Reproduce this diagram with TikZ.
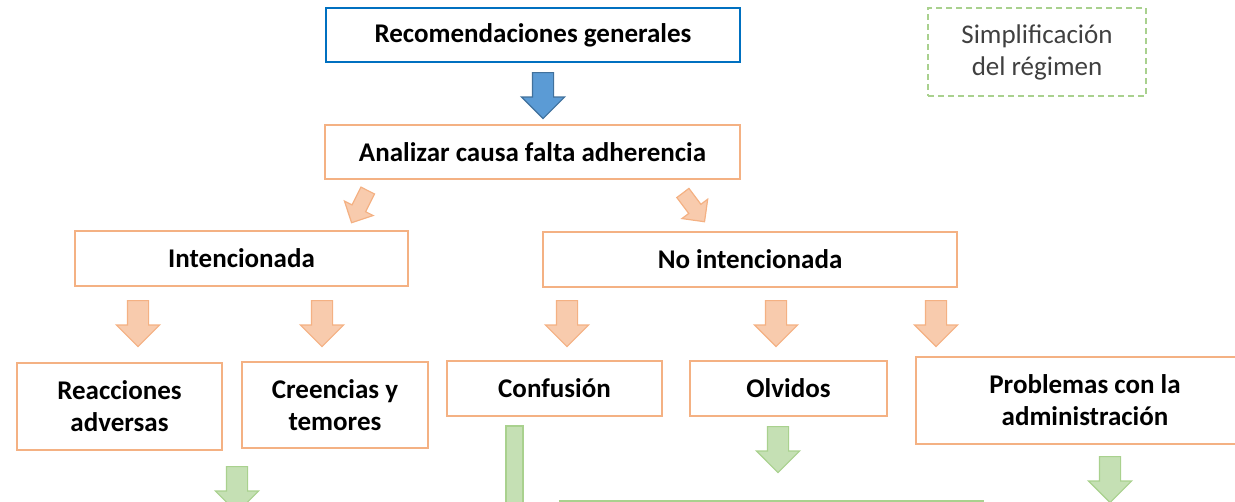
\documentclass[tikz,border=0pt]{standalone}
\usepackage{fontspec}
\setmainfont{Carlito}
\usetikzlibrary{shapes.arrows}

\definecolor{orangeline}{HTML}{F4B183}
\definecolor{orangefill}{HTML}{F8CBAD}
\definecolor{blueline}{HTML}{0070C0}
\definecolor{bluearrowline}{HTML}{41719C}
\definecolor{bluefill}{HTML}{5B9BD5}
\definecolor{greenline}{HTML}{A9D18E}
\definecolor{greenfill}{HTML}{C5E0B4}

\begin{document}
\begin{tikzpicture}[x=1pt, y=-1pt,
    font=\fontsize{27}{32}\selectfont,
    box/.style={draw=orangeline, line width=2pt, fill=white, align=center,
      inner sep=0pt, font=\fontsize{27}{32}\selectfont\bfseries},
    blockarrow/.style={single arrow, line width=1.2pt, inner xsep=0pt, inner ysep=10pt,
      minimum width=0pt, minimum height=46pt, single arrow head extend=11pt, anchor=tail},
    smallarrow/.style={blockarrow, inner ysep=7pt, minimum height=36pt, single arrow head extend=8.5pt},
    orangearrow/.style={draw=orangeline, fill=orangefill},
    greenarrow/.style={draw=greenline, fill=greenfill},
    bluearrow/.style={draw=bluearrowline, fill=bluefill}]
  \useasboundingbox (0,0) rectangle (1235,501);
  \clip (0,0) rectangle (1235,501);

  % boxes
  \node[box, draw=blueline, minimum width=414pt, minimum height=54pt] (rec) at (533,35) {Recomendaciones generales};
  \node[draw=greenline, dashed, line width=2pt, dash pattern=on 6pt off 4pt, text=black!75,
    align=center, minimum width=218pt, minimum height=88pt] (simp) at (1037,52) {Simplificación\\del régimen};
  \node[box, minimum width=415pt, minimum height=54pt] (ana) at (532.5,152) {Analizar causa falta adherencia};
  \node[box, minimum width=333pt, minimum height=55pt] (int) at (241.5,258) {Intencionada};
  \node[box, minimum width=414pt, minimum height=55pt] (noint) at (750,259.5) {No intencionada};
  \node[box, minimum width=205pt, minimum height=87pt] (reac) at (119.5,406.5) {Reacciones\\adversas};
  \node[box, minimum width=186pt, minimum height=86pt] (cree) at (335,405) {Creencias y\\temores};
  \node[box, minimum width=215pt, minimum height=55pt] (conf) at (554.5,388.5) {Confusión};
  \node[box, minimum width=197pt, minimum height=55pt] (olv) at (788.5,388.5) {Olvidos};
  \node[box, minimum width=338pt, minimum height=87pt] (prob) at (1085,400.5) {Problemas con la\\administración};
  \node[draw=greenline, line width=2pt, minimum width=423pt, minimum height=60pt] (plan) at (771.5,530.5) {};

  % block arrows
  \node[blockarrow, bluearrow, rotate=-90] (a0) at (543,72) {};
  \node[smallarrow, orangearrow, rotate=-116.6] (a1) at (368,190) {};
  \node[smallarrow, orangearrow, rotate=-53] (a2) at (682.5,192.5) {};
  \foreach \x/\n in {138/b1, 322/b2, 567/b3, 776/b4, 936/b5}
    \node[blockarrow, orangearrow, rotate=-90] (\n) at (\x,300) {};
  \node[blockarrow, greenarrow, rotate=-90] (c1) at (237,466) {};
  \node[blockarrow, greenarrow, rotate=-90] (c2) at (778,426) {};
  \node[blockarrow, greenarrow, rotate=-90] (c3) at (1110,456) {};
  \draw[greenarrow, line width=1.2pt] (506,426) rectangle (523,540);
\end{tikzpicture}
\end{document}
